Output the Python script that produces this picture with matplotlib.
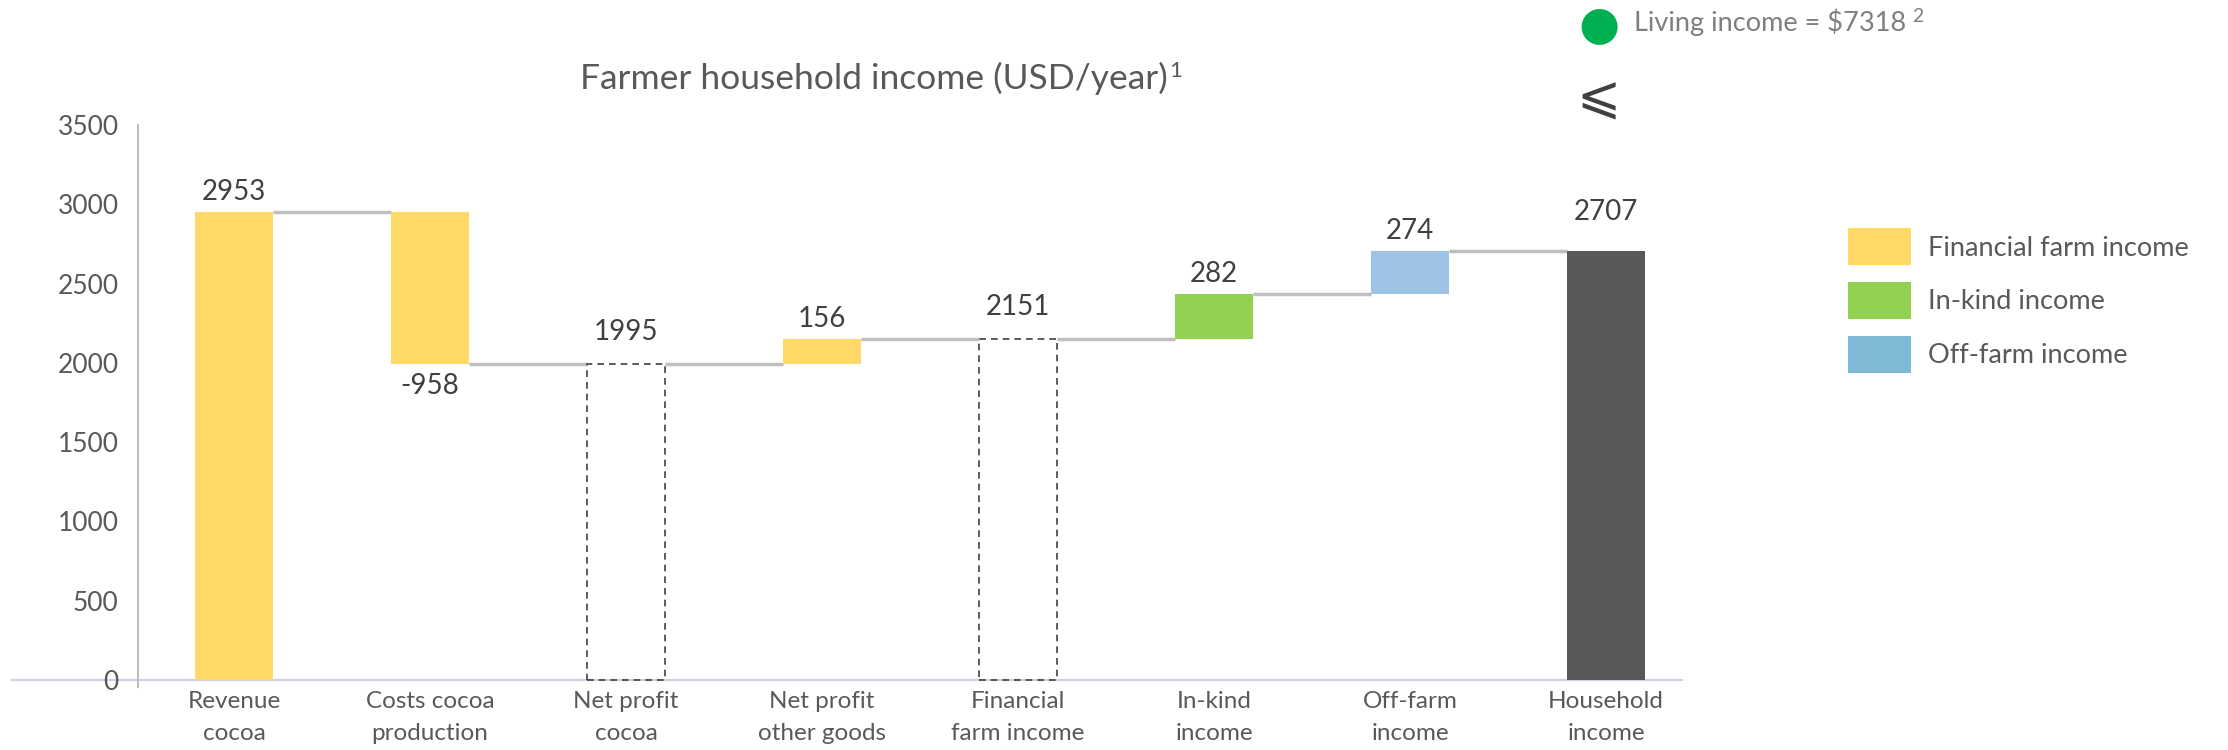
import matplotlib
matplotlib.use("Agg")
from matplotlib import pyplot as plt
from matplotlib.patches import Patch

categories = ["Revenue\ncocoa", "Costs cocoa\nproduction", "Net profit\ncocoa",
              "Net profit\nother goods", "Financial\nfarm income", "In-kind\nincome",
              "Off-farm\nincome", "Household\nincome"]
# waterfall steps: (bottom, top) of each bar
bar_bottoms = [0, 1995, 0, 1995, 0, 2151, 2433, 0]
bar_tops = [2953, 2953, 1995, 2151, 2151, 2433, 2707, 2707]
connector_levels = [2953, 1995, 1995, 2151, 2151, 2433, 2707]
value_labels = ["2953", "-958", "1995", "156", "2151", "282", "274", "2707"]
bar_kinds = ["fin", "cost", "sub", "fin", "sub", "inkind", "offfarm", "total"]
yticks = [0, 500, 1000, 1500, 2000, 2500, 3000, 3500]
legend_labels = ["Financial farm income", "In-kind income", "Off-farm income"]
living_income = 7318

FILL = {"fin": "#FFD966", "cost": "#FFD966", "inkind": "#92D050",
        "offfarm": "#9DC3E6", "total": "#595959"}
LABEL_GAP = {"fin": 5, "cost": -7, "sub": 13.5, "inkind": 5, "offfarm": 5, "total": 18.5}
LEGEND_COLORS = ["#FFD966", "#92D050", "#7EB9D6"]
TEXT = "#595959"

plt.rcParams["font.family"] = ["Lato", "DejaVu Sans"]

fig = plt.figure(figsize=(22.28, 7.5), dpi=100)
ax = fig.add_axes([11 / 2228, 0.084, 1672 / 2228, 0.7493])

width = 0.4
x = list(range(len(categories)))
for i, kind in enumerate(bar_kinds):
    h = bar_tops[i] - bar_bottoms[i]
    if kind == "sub":
        ax.bar(i, h, bottom=bar_bottoms[i], width=width, facecolor="none",
               edgecolor="#404040", linestyle=(0, (4, 3)), linewidth=1.2, zorder=3)
    else:
        ax.bar(i, h, bottom=bar_bottoms[i], width=width, color=FILL[kind], zorder=3)

# connectors between consecutive bars
for i, level in enumerate(connector_levels):
    ax.plot([i + width / 2, i + 1 - width / 2], [level, level],
            color="#BFBFBF", linewidth=2.5, zorder=2, solid_capstyle="butt")

for i, lab in enumerate(value_labels):
    gap = LABEL_GAP[bar_kinds[i]]
    if gap < 0:
        ax.annotate(lab, (i, bar_bottoms[i]), xytext=(0, gap), textcoords="offset points",
                    ha="center", va="top", fontsize=20, color="#404040")
    else:
        ax.annotate(lab, (i, bar_tops[i]), xytext=(0, gap), textcoords="offset points",
                    ha="center", va="bottom", fontsize=20, color="#404040")

ax.axhline(0, color="#D0CEE0", linewidth=1.5, zorder=1)
ax.set_xlim(-1.138, 7.393)
ax.set_ylim(-45, 3500)
ax.set_yticks(yticks)
ax.set_xticks(x)
ax.set_xticklabels(categories, linespacing=1.65)
ax.tick_params(axis="y", length=0, pad=14, labelsize=19, labelcolor=TEXT)
ax.tick_params(axis="x", length=0, pad=3, labelsize=17.5, labelcolor=TEXT)
for s in ("top", "right", "bottom"):
    ax.spines[s].set_visible(False)
ax.spines["left"].set_position(("data", -0.49))
ax.spines["left"].set_color("#BFBFBF")
ax.spines["left"].set_linewidth(1.5)

handles = [Patch(facecolor=c, edgecolor="none") for c in LEGEND_COLORS]
fig.legend(handles, legend_labels, loc="upper left",
           bbox_to_anchor=(1824 / 2228, 1 - 204 / 750),
           frameon=False, fontsize=19.5, labelcolor=TEXT, handlelength=2.3,
           handleheight=1.72, labelspacing=0.62, handletextpad=0.65)

title = fig.text(874 / 2228, 1 - 78 / 750, "Farmer household income (USD/year)",
                 ha="center", va="center", fontsize=25.5, color=TEXT)

# living income marker
fig.text(1599 / 2228, 1 - 26 / 750, "●", ha="center", va="center", fontsize=34,
         color="#00B050", family=["DejaVu Sans"])
living = fig.text(1634 / 2228, 1 - 22 / 750, f"Living income = ${living_income}",
                  ha="left", va="center", fontsize=19.5, color="#7F7F7F")
fig.text(1599 / 2228, 1 - 98 / 750, "⩽", ha="center", va="center", fontsize=38,
         color="#404040", family=["DejaVu Sans"])

# superscript footnote marks placed right after their texts
fig.canvas.draw()
renderer = fig.canvas.get_renderer()
inv = fig.transFigure.inverted()
for txt, mark, size, gap, color in [(title, "1", 16, 1, TEXT), (living, "2", 14, 6, "#7F7F7F")]:
    bb = txt.get_window_extent(renderer)
    x0, y1 = inv.transform((bb.x1 + gap, bb.y1))
    fig.text(x0, y1, mark, ha="left", va="top", fontsize=size, color=color)

fig.savefig("out.png", dpi=100)
